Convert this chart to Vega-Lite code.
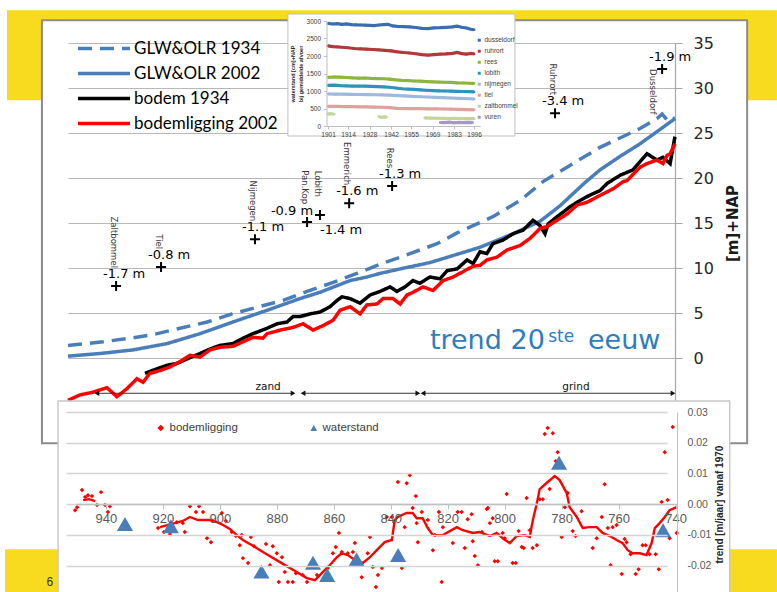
{
"$schema":"https://vega.github.io/schema/vega-lite/v6.json",
"width":607,"height":360,
"autosize":{"type":"none"},
"padding":{"left":68,"top":43,"right":102,"bottom":189},
"background":"#ffffff",
"config":{"view":{"stroke":null},"text":{"font":"DejaVu Sans"}},
"datasets":{
"yellow":[{"km":973.3,"km2":961.1,"m":38.63,"m2":28.63},{"km":961.1,"km2":714.8,"m":38.63,"m2":37.52},{"km":714.8,"km2":704.4,"m":38.63,"m2":28.63},{"km":974.0,"km2":704.4,"m":-21.26,"m2":-26.92}],
"mbox":[{"km":961.1,"km2":714.8,"m":37.52,"m2":-9.48}],
"lines":[
{"s":"GLW&OLR 1934","km":952.0,"m":1.4},{"s":"GLW&OLR 1934","km":948.9,"m":1.5},{"s":"GLW&OLR 1934","km":939.8,"m":1.8},{"s":"GLW&OLR 1934","km":930.3,"m":2.2},{"s":"GLW&OLR 1934","km":922.3,"m":2.6},{"s":"GLW&OLR 1934","km":912.9,"m":3.3},{"s":"GLW&OLR 1934","km":903.4,"m":4.0},{"s":"GLW&OLR 1934","km":894.7,"m":4.9},{"s":"GLW&OLR 1934","km":885.3,"m":5.7},{"s":"GLW&OLR 1934","km":876.9,"m":6.4},{"s":"GLW&OLR 1934","km":868.5,"m":7.4},{"s":"GLW&OLR 1934","km":859.4,"m":8.4},{"s":"GLW&OLR 1934","km":851.1,"m":9.4},{"s":"GLW&OLR 1934","km":842.3,"m":10.5},{"s":"GLW&OLR 1934","km":836.0,"m":11.2},{"s":"GLW&OLR 1934","km":823.1,"m":12.7},{"s":"GLW&OLR 1934","km":816.1,"m":13.9},{"s":"GLW&OLR 1934","km":803.6,"m":15.7},{"s":"GLW&OLR 1934","km":794.1,"m":17.5},{"s":"GLW&OLR 1934","km":786.1,"m":19.6},{"s":"GLW&OLR 1934","km":776.7,"m":21.4},{"s":"GLW&OLR 1934","km":766.2,"m":23.4},{"s":"GLW&OLR 1934","km":752.2,"m":25.5},{"s":"GLW&OLR 1934","km":746.3,"m":26.6},{"s":"GLW&OLR 1934","km":744.5,"m":27.1},{"s":"GLW&OLR 1934","km":742.4,"m":26.3},{"s":"GLW&OLR 1934","km":740.0,"m":26.7},
{"s":"GLW&OLR 2002","km":952.0,"m":0.2},{"s":"GLW&OLR 2002","km":940.8,"m":0.5},{"s":"GLW&OLR 2002","km":929.3,"m":0.9},{"s":"GLW&OLR 2002","km":917.4,"m":1.6},{"s":"GLW&OLR 2002","km":905.9,"m":2.7},{"s":"GLW&OLR 2002","km":894.4,"m":4.0},{"s":"GLW&OLR 2002","km":882.5,"m":5.3},{"s":"GLW&OLR 2002","km":871.0,"m":6.6},{"s":"GLW&OLR 2002","km":864.0,"m":7.3},{"s":"GLW&OLR 2002","km":853.5,"m":8.6},{"s":"GLW&OLR 2002","km":847.6,"m":9.0},{"s":"GLW&OLR 2002","km":843.0,"m":9.4},{"s":"GLW&OLR 2002","km":836.0,"m":9.9},{"s":"GLW&OLR 2002","km":825.6,"m":10.6},{"s":"GLW&OLR 2002","km":808.1,"m":12.3},{"s":"GLW&OLR 2002","km":796.6,"m":13.8},{"s":"GLW&OLR 2002","km":787.1,"m":15.2},{"s":"GLW&OLR 2002","km":780.2,"m":16.9},{"s":"GLW&OLR 2002","km":771.4,"m":19.5},{"s":"GLW&OLR 2002","km":766.2,"m":20.9},{"s":"GLW&OLR 2002","km":759.2,"m":22.4},{"s":"GLW&OLR 2002","km":752.2,"m":23.8},{"s":"GLW&OLR 2002","km":745.2,"m":25.4},{"s":"GLW&OLR 2002","km":740.0,"m":26.6},
{"s":"bodem 1934","km":925.1,"m":-1.7},{"s":"bodem 1934","km":920.9,"m":-1.2},{"s":"bodem 1934","km":917.4,"m":-0.8},{"s":"bodem 1934","km":913.9,"m":-0.6},{"s":"bodem 1934","km":910.4,"m":-0.1},{"s":"bodem 1934","km":905.9,"m":0.5},{"s":"bodem 1934","km":902.4,"m":1.0},{"s":"bodem 1934","km":898.9,"m":1.4},{"s":"bodem 1934","km":894.4,"m":1.6},{"s":"bodem 1934","km":890.9,"m":2.2},{"s":"bodem 1934","km":887.4,"m":2.7},{"s":"bodem 1934","km":882.5,"m":3.3},{"s":"bodem 1934","km":879.0,"m":3.8},{"s":"bodem 1934","km":875.5,"m":4.0},{"s":"bodem 1934","km":873.4,"m":4.6},{"s":"bodem 1934","km":871.0,"m":4.6},{"s":"bodem 1934","km":867.5,"m":4.9},{"s":"bodem 1934","km":864.0,"m":5.1},{"s":"bodem 1934","km":860.5,"m":5.7},{"s":"bodem 1934","km":858.0,"m":6.4},{"s":"bodem 1934","km":856.3,"m":6.8},{"s":"bodem 1934","km":853.5,"m":6.6},{"s":"bodem 1934","km":850.0,"m":6.1},{"s":"bodem 1934","km":846.5,"m":7.0},{"s":"bodem 1934","km":843.0,"m":7.4},{"s":"bodem 1934","km":839.5,"m":7.9},{"s":"bodem 1934","km":837.1,"m":7.4},{"s":"bodem 1934","km":834.3,"m":7.9},{"s":"bodem 1934","km":831.5,"m":8.6},{"s":"bodem 1934","km":829.1,"m":8.3},{"s":"bodem 1934","km":825.6,"m":9.0},{"s":"bodem 1934","km":822.1,"m":8.8},{"s":"bodem 1934","km":819.6,"m":9.7},{"s":"bodem 1934","km":816.1,"m":9.9},{"s":"bodem 1934","km":812.6,"m":10.9},{"s":"bodem 1934","km":810.5,"m":10.5},{"s":"bodem 1934","km":808.1,"m":11.8},{"s":"bodem 1934","km":805.7,"m":11.6},{"s":"bodem 1934","km":803.6,"m":12.7},{"s":"bodem 1934","km":800.1,"m":13.1},{"s":"bodem 1934","km":796.6,"m":13.8},{"s":"bodem 1934","km":793.1,"m":14.2},{"s":"bodem 1934","km":789.6,"m":15.3},{"s":"bodem 1934","km":787.1,"m":14.7},{"s":"bodem 1934","km":785.4,"m":13.8},{"s":"bodem 1934","km":784.3,"m":14.9},{"s":"bodem 1934","km":781.2,"m":15.7},{"s":"bodem 1934","km":779.1,"m":16.2},{"s":"bodem 1934","km":776.7,"m":16.8},{"s":"bodem 1934","km":773.2,"m":17.5},{"s":"bodem 1934","km":769.7,"m":18.1},{"s":"bodem 1934","km":766.2,"m":18.6},{"s":"bodem 1934","km":763.7,"m":19.4},{"s":"bodem 1934","km":759.2,"m":20.3},{"s":"bodem 1934","km":754.7,"m":20.9},{"s":"bodem 1934","km":749.8,"m":22.7},{"s":"bodem 1934","km":746.3,"m":22.0},{"s":"bodem 1934","km":744.2,"m":22.3},{"s":"bodem 1934","km":741.7,"m":21.6},{"s":"bodem 1934","km":740.7,"m":23.4},{"s":"bodem 1934","km":740.0,"m":24.6},
{"s":"bodemligging 2002","km":952.0,"m":-4.7},{"s":"bodemligging 2002","km":947.8,"m":-4.1},{"s":"bodemligging 2002","km":943.3,"m":-3.8},{"s":"bodemligging 2002","km":938.4,"m":-3.3},{"s":"bodemligging 2002","km":934.9,"m":-4.3},{"s":"bodemligging 2002","km":931.4,"m":-3.4},{"s":"bodemligging 2002","km":927.9,"m":-2.3},{"s":"bodemligging 2002","km":925.8,"m":-2.7},{"s":"bodemligging 2002","km":923.4,"m":-1.7},{"s":"bodemligging 2002","km":919.9,"m":-1.4},{"s":"bodemligging 2002","km":916.4,"m":-1.0},{"s":"bodemligging 2002","km":912.9,"m":-0.4},{"s":"bodemligging 2002","km":909.4,"m":0.3},{"s":"bodemligging 2002","km":905.9,"m":0.1},{"s":"bodemligging 2002","km":902.4,"m":0.9},{"s":"bodemligging 2002","km":898.9,"m":1.2},{"s":"bodemligging 2002","km":894.4,"m":1.3},{"s":"bodemligging 2002","km":890.9,"m":1.8},{"s":"bodemligging 2002","km":887.4,"m":2.3},{"s":"bodemligging 2002","km":883.9,"m":2.2},{"s":"bodemligging 2002","km":882.5,"m":2.7},{"s":"bodemligging 2002","km":877.9,"m":3.1},{"s":"bodemligging 2002","km":873.4,"m":3.4},{"s":"bodemligging 2002","km":869.9,"m":3.8},{"s":"bodemligging 2002","km":866.4,"m":3.1},{"s":"bodemligging 2002","km":862.9,"m":3.6},{"s":"bodemligging 2002","km":859.4,"m":4.2},{"s":"bodemligging 2002","km":857.0,"m":5.3},{"s":"bodemligging 2002","km":853.5,"m":5.7},{"s":"bodemligging 2002","km":850.0,"m":4.9},{"s":"bodemligging 2002","km":847.6,"m":5.9},{"s":"bodemligging 2002","km":844.1,"m":6.0},{"s":"bodemligging 2002","km":842.0,"m":6.6},{"s":"bodemligging 2002","km":838.5,"m":6.6},{"s":"bodemligging 2002","km":836.0,"m":6.0},{"s":"bodemligging 2002","km":833.6,"m":7.0},{"s":"bodemligging 2002","km":831.5,"m":7.3},{"s":"bodemligging 2002","km":828.0,"m":7.9},{"s":"bodemligging 2002","km":824.5,"m":7.5},{"s":"bodemligging 2002","km":821.0,"m":8.6},{"s":"bodemligging 2002","km":817.5,"m":9.0},{"s":"bodemligging 2002","km":814.0,"m":9.6},{"s":"bodemligging 2002","km":810.5,"m":10.2},{"s":"bodemligging 2002","km":808.1,"m":10.3},{"s":"bodemligging 2002","km":805.7,"m":10.9},{"s":"bodemligging 2002","km":802.2,"m":11.2},{"s":"bodemligging 2002","km":798.7,"m":12.0},{"s":"bodemligging 2002","km":794.1,"m":12.5},{"s":"bodemligging 2002","km":790.6,"m":13.3},{"s":"bodemligging 2002","km":787.1,"m":14.4},{"s":"bodemligging 2002","km":784.7,"m":14.6},{"s":"bodemligging 2002","km":781.2,"m":15.3},{"s":"bodemligging 2002","km":777.7,"m":16.0},{"s":"bodemligging 2002","km":774.2,"m":17.0},{"s":"bodemligging 2002","km":770.7,"m":17.3},{"s":"bodemligging 2002","km":767.2,"m":17.9},{"s":"bodemligging 2002","km":761.6,"m":18.8},{"s":"bodemligging 2002","km":758.1,"m":19.6},{"s":"bodemligging 2002","km":756.8,"m":19.7},{"s":"bodemligging 2002","km":752.2,"m":21.2},{"s":"bodemligging 2002","km":749.8,"m":21.6},{"s":"bodemligging 2002","km":746.3,"m":22.0},{"s":"bodemligging 2002","km":744.2,"m":21.6},{"s":"bodemligging 2002","km":742.8,"m":22.5},{"s":"bodemligging 2002","km":741.7,"m":22.7},{"s":"bodemligging 2002","km":740.0,"m":23.8}
],
"stations":[{"name":"Zaltbommel","km":935.2,"m":8.0,"lab":"-1.7 m"},{"name":"Tiel","km":919.5,"m":10.1,"lab":"-0.8 m"},{"name":"Nijmegen","km":886.7,"m":13.2,"lab":"-1.1 m"},{"name":"Pan.Kop","km":868.5,"m":15.1,"lab":"-0.9 m"},{"name":"Lobith","km":864.0,"m":15.9,"lab":"-1.4 m"},{"name":"Emmerich","km":853.8,"m":17.2,"lab":"-1.6 m"},{"name":"Rees","km":838.8,"m":19.1,"lab":"-1.3 m"},{"name":"Ruhrort","km":781.9,"m":27.2,"lab":"-3.4 m"},{"name":"Dusseldorf","km":744.5,"m":32.1,"lab":"-1.9 m"}],
"arrows":[{"km":941.9,"km2":873.4,"m":-3.92},{"km":869.9,"km2":829.8,"m":-3.92},{"km":828.0,"km2":740.7,"m":-3.92}],
"arrowlab":[{"t":"zand","km":882.1,"m":-3.26},{"t":"grind","km":774.6,"m":-3.26}],
"trendbig":[{"t":"trend 20","km":825.6,"m":1.04},{"t":"eeuw","km":770.4,"m":1.04}],
"trendsmall":[{"t":"ste","km":784.3,"m":1.78}],
"pagenr":[{"t":"6","km":958.3,"m":-24.9}],
"bbox":[{"km":956.8,"km2":721.0,"v":0.0336,"v2":-0.0313}],
"ma":[
{"g":1,"km":948.0,"v":0.0013},{"g":1,"km":945.9,"v":0.0016},{"g":1,"km":943.8,"v":0.0010},
{"g":2,"km":921.0,"v":-0.0075},{"g":2,"km":915.8,"v":-0.0062},{"g":2,"km":913.0,"v":-0.0055},{"g":2,"km":910.5,"v":-0.0042},{"g":2,"km":907.7,"v":-0.0052},{"g":2,"km":903.5,"v":-0.0052},{"g":2,"km":901.0,"v":-0.0059},{"g":2,"km":898.9,"v":-0.0068},{"g":2,"km":896.5,"v":-0.0081},{"g":2,"km":894.0,"v":-0.0101},{"g":2,"km":891.9,"v":-0.0117},{"g":2,"km":888.7,"v":-0.0134},{"g":2,"km":885.9,"v":-0.0150},{"g":2,"km":883.1,"v":-0.0166},{"g":2,"km":878.9,"v":-0.0189},{"g":2,"km":875.4,"v":-0.0208},{"g":2,"km":873.0,"v":-0.0221},{"g":2,"km":869.5,"v":-0.0241},{"g":2,"km":866.6,"v":-0.0248},{"g":2,"km":863.8,"v":-0.0221},{"g":2,"km":861.4,"v":-0.0199},{"g":2,"km":858.9,"v":-0.0173},{"g":2,"km":857.2,"v":-0.0160},{"g":2,"km":855.1,"v":-0.0166},{"g":2,"km":852.6,"v":-0.0182},{"g":2,"km":849.8,"v":-0.0192},{"g":2,"km":847.3,"v":-0.0173},{"g":2,"km":844.9,"v":-0.0150},{"g":2,"km":842.1,"v":-0.0124},{"g":2,"km":839.6,"v":-0.0117},{"g":2,"km":838.6,"v":-0.0052},{"g":2,"km":837.5,"v":-0.0042},{"g":2,"km":834.4,"v":-0.0029},{"g":2,"km":832.3,"v":-0.0029},{"g":2,"km":830.9,"v":-0.0046},{"g":2,"km":828.8,"v":-0.0046},{"g":2,"km":827.0,"v":-0.0078},{"g":2,"km":825.2,"v":-0.0101},{"g":2,"km":821.7,"v":-0.0101},{"g":2,"km":816.8,"v":-0.0075},{"g":2,"km":814.7,"v":-0.0085},{"g":2,"km":811.2,"v":-0.0094},{"g":2,"km":808.8,"v":-0.0091},{"g":2,"km":805.2,"v":-0.0104},{"g":2,"km":802.8,"v":-0.0094},{"g":2,"km":800.7,"v":-0.0111},{"g":2,"km":798.2,"v":-0.0127},{"g":2,"km":795.8,"v":-0.0104},{"g":2,"km":793.0,"v":-0.0101},{"g":2,"km":791.2,"v":-0.0107},{"g":2,"km":790.1,"v":-0.0052},{"g":2,"km":788.7,"v":0.0003},{"g":2,"km":787.7,"v":0.0049},{"g":2,"km":784.9,"v":0.0072},{"g":2,"km":782.4,"v":0.0091},{"g":2,"km":780.7,"v":0.0078},{"g":2,"km":778.2,"v":0.0036},{"g":2,"km":777.2,"v":-0.0010},{"g":2,"km":774.7,"v":-0.0042},{"g":2,"km":772.6,"v":-0.0078},{"g":2,"km":770.2,"v":-0.0075},{"g":2,"km":767.7,"v":-0.0075},{"g":2,"km":765.6,"v":-0.0094},{"g":2,"km":763.1,"v":-0.0104},{"g":2,"km":760.7,"v":-0.0117},{"g":2,"km":758.6,"v":-0.0127},{"g":2,"km":756.8,"v":-0.0150},{"g":2,"km":755.1,"v":-0.0160},{"g":2,"km":752.6,"v":-0.0160},{"g":2,"km":750.2,"v":-0.0166},{"g":2,"km":748.4,"v":-0.0127},{"g":2,"km":747.3,"v":-0.0078},{"g":2,"km":745.6,"v":-0.0062},{"g":2,"km":743.8,"v":-0.0042},{"g":2,"km":742.1,"v":-0.0020},{"g":2,"km":739.6,"v":-0.0010}
],
"scat":[
{"km":950.8,"v":-0.0020},{"km":950.1,"v":-0.0010},{"km":948.4,"v":0.0046},{"km":947.3,"v":0.0023},{"km":946.3,"v":0.0029},{"km":944.9,"v":0.0026},{"km":943.1,"v":-0.0003},{"km":941.7,"v":0.0039},{"km":940.3,"v":-0.0003},{"km":939.3,"v":-0.0026},{"km":938.6,"v":-0.0007},
{"km":921.7,"v":-0.0078},{"km":919.6,"v":-0.0091},{"km":917.5,"v":-0.0098},{"km":915.1,"v":-0.0059},{"km":912.3,"v":-0.0091},{"km":913.0,"v":-0.0062},{"km":910.5,"v":-0.0007},{"km":907.3,"v":-0.0007},{"km":908.4,"v":-0.0026},{"km":905.9,"v":-0.0026},{"km":904.5,"v":-0.0111},{"km":903.1,"v":-0.0124},{"km":899.3,"v":-0.0029},{"km":897.9,"v":-0.0055},{"km":895.8,"v":-0.0091},{"km":894.4,"v":-0.0104},{"km":892.3,"v":-0.0101},{"km":889.1,"v":-0.0107},{"km":893.0,"v":-0.0134},{"km":891.9,"v":-0.0176},{"km":890.1,"v":-0.0192},{"km":888.0,"v":-0.0137},{"km":883.8,"v":-0.0130},{"km":882.4,"v":-0.0199},{"km":881.4,"v":-0.0137},{"km":880.0,"v":-0.0160},{"km":878.2,"v":-0.0173},{"km":877.2,"v":-0.0221},{"km":879.3,"v":-0.0254},{"km":876.1,"v":-0.0254},{"km":874.4,"v":-0.0254},{"km":873.3,"v":-0.0225},{"km":870.9,"v":-0.0231},{"km":869.4,"v":-0.0254},{"km":865.9,"v":-0.0231},{"km":862.1,"v":-0.0208},{"km":860.3,"v":-0.0160},{"km":859.3,"v":-0.0140},{"km":858.2,"v":-0.0094},{"km":857.2,"v":-0.0156},{"km":855.1,"v":-0.0160},{"km":853.3,"v":-0.0156},{"km":852.6,"v":-0.0127},{"km":851.6,"v":-0.0189},{"km":850.2,"v":-0.0238},{"km":848.1,"v":-0.0160},{"km":847.3,"v":-0.0107},{"km":846.3,"v":-0.0205},{"km":844.5,"v":-0.0231},{"km":843.1,"v":-0.0208},{"km":845.2,"v":-0.0270},{"km":841.4,"v":-0.0042},{"km":839.6,"v":-0.0042},{"km":837.5,"v":0.0072},{"km":834.4,"v":0.0068},{"km":833.3,"v":0.0094},{"km":831.2,"v":0.0026},{"km":832.3,"v":-0.0013},{"km":829.1,"v":-0.0026},{"km":830.9,"v":-0.0062},{"km":835.1,"v":-0.0075},{"km":836.1,"v":-0.0208},{"km":830.5,"v":-0.0124},{"km":827.0,"v":-0.0052},{"km":825.2,"v":-0.0150},{"km":824.5,"v":-0.0101},{"km":823.1,"v":-0.0026},{"km":822.1,"v":-0.0254},{"km":821.7,"v":-0.0075},{"km":818.2,"v":-0.0127},{"km":816.5,"v":-0.0026},{"km":815.1,"v":-0.0026},{"km":813.0,"v":-0.0049},{"km":811.6,"v":-0.0033},{"km":814.0,"v":-0.0143},{"km":811.2,"v":-0.0121},{"km":809.4,"v":-0.0199},{"km":810.5,"v":-0.0169},{"km":808.0,"v":-0.0091},{"km":806.3,"v":-0.0016},{"km":805.9,"v":-0.0013},{"km":805.2,"v":-0.0062},{"km":804.2,"v":-0.0046},{"km":803.5,"v":-0.0186},{"km":802.4,"v":-0.0186},{"km":800.7,"v":-0.0094},{"km":800.0,"v":-0.0111},{"km":799.3,"v":0.0033},{"km":797.2,"v":-0.0192},{"km":796.1,"v":-0.0192},{"km":795.1,"v":-0.0088},{"km":794.0,"v":-0.0140},{"km":793.3,"v":-0.0143},{"km":792.3,"v":0.0020},{"km":791.2,"v":-0.0085},{"km":790.2,"v":-0.0143},{"km":788.7,"v":-0.0134},{"km":787.7,"v":0.0016},{"km":786.6,"v":0.0016},{"km":785.9,"v":0.0228},{"km":784.9,"v":0.0248},{"km":783.1,"v":0.0231},{"km":784.2,"v":0.0049},{"km":781.4,"v":0.0169},{"km":782.1,"v":0.0140},{"km":780.0,"v":-0.0107},{"km":778.9,"v":-0.0010},{"km":777.9,"v":0.0036},{"km":776.1,"v":-0.0088},{"km":775.1,"v":-0.0104},{"km":773.0,"v":-0.0023},{"km":769.1,"v":-0.0143},{"km":767.7,"v":-0.0111},{"km":765.9,"v":-0.0042},{"km":764.9,"v":0.0065},{"km":763.8,"v":-0.0078},{"km":762.8,"v":-0.0199},{"km":762.1,"v":-0.0075},{"km":760.7,"v":-0.0068},{"km":758.9,"v":-0.0228},{"km":757.9,"v":-0.0114},{"km":757.2,"v":-0.0124},{"km":755.8,"v":-0.0163},{"km":754.0,"v":-0.0228},{"km":753.0,"v":-0.0212},{"km":751.6,"v":-0.0134},{"km":750.5,"v":-0.0134},{"km":749.1,"v":-0.0163},{"km":747.0,"v":-0.0163},{"km":745.9,"v":-0.0212},{"km":744.9,"v":0.0007},{"km":743.8,"v":0.0169},{"km":742.8,"v":0.0013},{"km":742.1,"v":-0.0111},{"km":741.0,"v":0.0251},{"km":739.6,"v":-0.0094}
],
"ws":[{"km":933.3,"v":-0.0065},{"km":917.2,"v":-0.0072},{"km":885.4,"v":-0.0220},{"km":867.3,"v":-0.0191},{"km":862.3,"v":-0.0231},{"km":852.0,"v":-0.0180},{"km":837.4,"v":-0.0166},{"km":780.9,"v":0.0135},{"km":744.4,"v":-0.0085}],
"ibox":[{"yr":1874.9,"yr2":2022.6,"cm":3200,"cm2":-286}],
"inset":[
{"st":"dusseldorf","g":1,"yr":1901,"cm":2930},{"st":"dusseldorf","g":1,"yr":1904,"cm":2915},{"st":"dusseldorf","g":1,"yr":1907,"cm":2925},{"st":"dusseldorf","g":1,"yr":1910,"cm":2905},{"st":"dusseldorf","g":1,"yr":1913,"cm":2915},{"st":"dusseldorf","g":1,"yr":1916,"cm":2895},{"st":"dusseldorf","g":1,"yr":1919,"cm":2890},{"st":"dusseldorf","g":1,"yr":1922,"cm":2885},{"st":"dusseldorf","g":1,"yr":1925,"cm":2880},{"st":"dusseldorf","g":1,"yr":1928,"cm":2875},{"st":"dusseldorf","g":1,"yr":1931,"cm":2870},{"st":"dusseldorf","g":1,"yr":1934,"cm":2885},{"st":"dusseldorf","g":1,"yr":1937,"cm":2895},{"st":"dusseldorf","g":1,"yr":1940,"cm":2905},{"st":"dusseldorf","g":1,"yr":1943,"cm":2860},{"st":"dusseldorf","g":1,"yr":1946,"cm":2845},{"st":"dusseldorf","g":1,"yr":1950,"cm":2840},{"st":"dusseldorf","g":1,"yr":1954,"cm":2830},{"st":"dusseldorf","g":1,"yr":1958,"cm":2815},{"st":"dusseldorf","g":1,"yr":1962,"cm":2790},{"st":"dusseldorf","g":1,"yr":1966,"cm":2785},{"st":"dusseldorf","g":1,"yr":1970,"cm":2805},{"st":"dusseldorf","g":1,"yr":1974,"cm":2810},{"st":"dusseldorf","g":1,"yr":1978,"cm":2820},{"st":"dusseldorf","g":1,"yr":1982,"cm":2830},{"st":"dusseldorf","g":1,"yr":1985,"cm":2850},{"st":"dusseldorf","g":1,"yr":1988,"cm":2820},{"st":"dusseldorf","g":1,"yr":1991,"cm":2800},{"st":"dusseldorf","g":1,"yr":1994,"cm":2765},{"st":"dusseldorf","g":1,"yr":1996,"cm":2750},
{"st":"ruhrort","g":1,"yr":1901,"cm":2290},{"st":"ruhrort","g":1,"yr":1904,"cm":2270},{"st":"ruhrort","g":1,"yr":1907,"cm":2260},{"st":"ruhrort","g":1,"yr":1910,"cm":2250},{"st":"ruhrort","g":1,"yr":1914,"cm":2235},{"st":"ruhrort","g":1,"yr":1918,"cm":2215},{"st":"ruhrort","g":1,"yr":1922,"cm":2205},{"st":"ruhrort","g":1,"yr":1926,"cm":2195},{"st":"ruhrort","g":1,"yr":1930,"cm":2185},{"st":"ruhrort","g":1,"yr":1934,"cm":2175},{"st":"ruhrort","g":1,"yr":1938,"cm":2160},{"st":"ruhrort","g":1,"yr":1942,"cm":2145},{"st":"ruhrort","g":1,"yr":1946,"cm":2120},{"st":"ruhrort","g":1,"yr":1950,"cm":2100},{"st":"ruhrort","g":1,"yr":1954,"cm":2085},{"st":"ruhrort","g":1,"yr":1958,"cm":2065},{"st":"ruhrort","g":1,"yr":1962,"cm":2040},{"st":"ruhrort","g":1,"yr":1966,"cm":2025},{"st":"ruhrort","g":1,"yr":1970,"cm":2040},{"st":"ruhrort","g":1,"yr":1974,"cm":2055},{"st":"ruhrort","g":1,"yr":1978,"cm":2060},{"st":"ruhrort","g":1,"yr":1982,"cm":2075},{"st":"ruhrort","g":1,"yr":1985,"cm":2100},{"st":"ruhrort","g":1,"yr":1988,"cm":2070},{"st":"ruhrort","g":1,"yr":1991,"cm":2055},{"st":"ruhrort","g":1,"yr":1994,"cm":2075},{"st":"ruhrort","g":1,"yr":1996,"cm":2060},
{"st":"rees","g":1,"yr":1901,"cm":1390},{"st":"rees","g":1,"yr":1905,"cm":1400},{"st":"rees","g":1,"yr":1909,"cm":1395},{"st":"rees","g":1,"yr":1913,"cm":1385},{"st":"rees","g":1,"yr":1917,"cm":1375},{"st":"rees","g":1,"yr":1921,"cm":1370},{"st":"rees","g":1,"yr":1925,"cm":1372},{"st":"rees","g":1,"yr":1929,"cm":1360},{"st":"rees","g":1,"yr":1933,"cm":1355},{"st":"rees","g":1,"yr":1937,"cm":1350},{"st":"rees","g":1,"yr":1941,"cm":1340},{"st":"rees","g":1,"yr":1945,"cm":1320},{"st":"rees","g":1,"yr":1949,"cm":1305},{"st":"rees","g":1,"yr":1953,"cm":1295},{"st":"rees","g":1,"yr":1957,"cm":1285},{"st":"rees","g":1,"yr":1961,"cm":1280},{"st":"rees","g":1,"yr":1965,"cm":1270},{"st":"rees","g":1,"yr":1969,"cm":1262},{"st":"rees","g":1,"yr":1973,"cm":1255},{"st":"rees","g":1,"yr":1977,"cm":1250},{"st":"rees","g":1,"yr":1981,"cm":1245},{"st":"rees","g":1,"yr":1985,"cm":1232},{"st":"rees","g":1,"yr":1989,"cm":1228},{"st":"rees","g":1,"yr":1993,"cm":1222},{"st":"rees","g":1,"yr":1996,"cm":1218},
{"st":"lobith","g":1,"yr":1901,"cm":1160},{"st":"lobith","g":1,"yr":1905,"cm":1165},{"st":"lobith","g":1,"yr":1909,"cm":1152},{"st":"lobith","g":1,"yr":1913,"cm":1145},{"st":"lobith","g":1,"yr":1917,"cm":1140},{"st":"lobith","g":1,"yr":1921,"cm":1138},{"st":"lobith","g":1,"yr":1925,"cm":1140},{"st":"lobith","g":1,"yr":1929,"cm":1132},{"st":"lobith","g":1,"yr":1933,"cm":1125},{"st":"lobith","g":1,"yr":1937,"cm":1118},{"st":"lobith","g":1,"yr":1941,"cm":1108},{"st":"lobith","g":1,"yr":1945,"cm":1085},{"st":"lobith","g":1,"yr":1949,"cm":1065},{"st":"lobith","g":1,"yr":1953,"cm":1055},{"st":"lobith","g":1,"yr":1957,"cm":1045},{"st":"lobith","g":1,"yr":1961,"cm":1032},{"st":"lobith","g":1,"yr":1965,"cm":1022},{"st":"lobith","g":1,"yr":1969,"cm":1012},{"st":"lobith","g":1,"yr":1973,"cm":1005},{"st":"lobith","g":1,"yr":1977,"cm":1000},{"st":"lobith","g":1,"yr":1981,"cm":995},{"st":"lobith","g":1,"yr":1985,"cm":992},{"st":"lobith","g":1,"yr":1989,"cm":986},{"st":"lobith","g":1,"yr":1993,"cm":980},{"st":"lobith","g":1,"yr":1996,"cm":975},
{"st":"nijmegen","g":1,"yr":1901,"cm":915},{"st":"nijmegen","g":1,"yr":1906,"cm":912},{"st":"nijmegen","g":1,"yr":1911,"cm":908},{"st":"nijmegen","g":1,"yr":1916,"cm":905},{"st":"nijmegen","g":1,"yr":1921,"cm":900},{"st":"nijmegen","g":1,"yr":1926,"cm":898},{"st":"nijmegen","g":1,"yr":1931,"cm":893},{"st":"nijmegen","g":1,"yr":1936,"cm":890},{"st":"nijmegen","g":1,"yr":1941,"cm":882},{"st":"nijmegen","g":1,"yr":1946,"cm":870},{"st":"nijmegen","g":1,"yr":1951,"cm":858},{"st":"nijmegen","g":1,"yr":1956,"cm":845},{"st":"nijmegen","g":1,"yr":1961,"cm":835},{"st":"nijmegen","g":1,"yr":1966,"cm":828},{"st":"nijmegen","g":1,"yr":1971,"cm":818},{"st":"nijmegen","g":1,"yr":1976,"cm":810},{"st":"nijmegen","g":1,"yr":1981,"cm":800},{"st":"nijmegen","g":1,"yr":1986,"cm":792},{"st":"nijmegen","g":1,"yr":1991,"cm":785},{"st":"nijmegen","g":1,"yr":1996,"cm":772},
{"st":"tiel","g":1,"yr":1901,"cm":560},{"st":"tiel","g":1,"yr":1906,"cm":558},{"st":"tiel","g":1,"yr":1911,"cm":555},{"st":"tiel","g":1,"yr":1916,"cm":552},{"st":"tiel","g":1,"yr":1921,"cm":548},{"st":"tiel","g":1,"yr":1926,"cm":545},{"st":"tiel","g":1,"yr":1931,"cm":540},{"st":"tiel","g":1,"yr":1936,"cm":535},{"st":"tiel","g":1,"yr":1941,"cm":525},{"st":"tiel","g":1,"yr":1946,"cm":505},{"st":"tiel","g":1,"yr":1951,"cm":498},{"st":"tiel","g":1,"yr":1956,"cm":495},{"st":"tiel","g":1,"yr":1961,"cm":495},{"st":"tiel","g":1,"yr":1966,"cm":490},{"st":"tiel","g":1,"yr":1971,"cm":488},{"st":"tiel","g":1,"yr":1976,"cm":485},{"st":"tiel","g":1,"yr":1981,"cm":480},{"st":"tiel","g":1,"yr":1986,"cm":475},{"st":"tiel","g":1,"yr":1991,"cm":470},{"st":"tiel","g":1,"yr":1996,"cm":462},
{"st":"zaltbommel","g":1,"yr":1901,"cm":345},{"st":"zaltbommel","g":1,"yr":1903,"cm":350},{"st":"zaltbommel","g":1,"yr":1905,"cm":335},{"st":"zaltbommel","g":2,"yr":1934,"cm":270},{"st":"zaltbommel","g":2,"yr":1936,"cm":245},{"st":"zaltbommel","g":2,"yr":1938,"cm":260},{"st":"zaltbommel","g":2,"yr":1939,"cm":250},{"st":"zaltbommel","g":3,"yr":1964,"cm":230},{"st":"zaltbommel","g":3,"yr":1968,"cm":225},{"st":"zaltbommel","g":3,"yr":1972,"cm":222},{"st":"zaltbommel","g":3,"yr":1976,"cm":218},{"st":"zaltbommel","g":3,"yr":1980,"cm":215},{"st":"zaltbommel","g":3,"yr":1984,"cm":216},{"st":"zaltbommel","g":3,"yr":1988,"cm":214},{"st":"zaltbommel","g":3,"yr":1992,"cm":212},{"st":"zaltbommel","g":3,"yr":1996,"cm":210},
{"st":"vuren","g":1,"yr":1974,"cm":100},{"st":"vuren","g":1,"yr":1977,"cm":95},{"st":"vuren","g":1,"yr":1980,"cm":108},{"st":"vuren","g":1,"yr":1983,"cm":92},{"st":"vuren","g":1,"yr":1986,"cm":104},{"st":"vuren","g":1,"yr":1989,"cm":96},{"st":"vuren","g":1,"yr":1992,"cm":102},{"st":"vuren","g":1,"yr":1995,"cm":98}
]
},
"layer":[
{
"encoding":{
"x":{"field":"km","type":"quantitative","scale":{"domain":[740,952],"reverse":true,"range":[0,607],"nice":false,"zero":false},"axis":null},
"y":{"field":"m","type":"quantitative","scale":{"domain":[-5,35],"range":[360,0],"nice":false,"zero":false},
"axis":{"orient":"right","values":[0,5,10,15,20,25,30,35],"title":"[m]+NAP","titleFont":"DejaVu Sans","titleFontSize":15,"titleFontWeight":"bold","titleColor":"#1a1a1a","titleAngle":270,"titleBaseline":"top","titlePadding":12,"grid":true,"gridColor":"#b8b8b8","gridWidth":1.2,"domainColor":"#a6a6a6","domainWidth":1.2,"tickColor":"#a6a6a6","tickSize":7,"labelFont":"DejaVu Sans","labelFontSize":16,"labelColor":"#262626","labelPadding":11,"zindex":0}}
},
"layer":[
{"data":{"name":"yellow"},"mark":{"type":"rect","color":"#f8da1e"},"encoding":{"x2":{"field":"km2"},"y2":{"field":"m2"}}},
{"data":{"name":"mbox"},"mark":{"type":"rect","filled":false,"stroke":"#8c8c8c","strokeWidth":2},"encoding":{"x2":{"field":"km2"},"y2":{"field":"m2"}}},
{"data":{"name":"lines"},"mark":{"type":"line","strokeWidth":3.5},
"encoding":{
"color":{"field":"s","type":"nominal","scale":{"domain":["GLW&OLR 1934","GLW&OLR 2002","bodem 1934","bodemligging 2002"],"range":["#4a7ebb","#4a7ebb","#000000","#ff0000"]},
"legend":{"title":null,"orient":"none","legendX":8,"legendY":-3,"symbolType":"stroke","symbolSize":2704,"symbolStrokeWidth":3.5,"labelFont":"Lato","labelFontSize":17,"labelColor":"#000000","labelOffset":2,"rowPadding":7,"clipHeight":17,"labelLimit":400}},
"strokeDash":{"field":"s","type":"nominal","scale":{"domain":["GLW&OLR 1934","GLW&OLR 2002","bodem 1934","bodemligging 2002"],"range":[[14,8],[1,0],[1,0],[1,0]]},
"legend":{"title":null,"orient":"none","legendX":8,"legendY":-3,"symbolType":"stroke","symbolSize":2704,"symbolStrokeWidth":3.5,"labelFont":"Lato","labelFontSize":17,"labelColor":"#000000","labelOffset":2,"rowPadding":7,"clipHeight":17,"labelLimit":400}}
}},
{"data":{"name":"arrows"},"mark":{"type":"rule","color":"#333333","strokeWidth":1},"encoding":{"x2":{"field":"km2"}}},
{"data":{"name":"arrows"},"mark":{"type":"point","shape":"triangle-left","size":30,"filled":true,"color":"#111111","opacity":1},"encoding":{}},
{"data":{"name":"arrows"},"mark":{"type":"point","shape":"triangle-right","size":30,"filled":true,"color":"#111111","opacity":1},"encoding":{"x":{"field":"km2","type":"quantitative","scale":{"domain":[740,952],"reverse":true,"range":[0,607],"nice":false,"zero":false},"axis":null}}},
{"data":{"name":"arrowlab"},"mark":{"type":"text","font":"DejaVu Sans","fontSize":10.5,"color":"#111111","baseline":"middle","align":"center"},"encoding":{"text":{"field":"t"}}},
{"data":{"name":"stations"},"mark":{"type":"point","shape":"M-1,0H1M0,-1V1","size":100,"filled":false,"color":"#000000","strokeWidth":2,"opacity":1},"encoding":{}},
{"data":{"name":"stations"},"transform":[{"filter":"datum.name !== 'Pan.Kop' && datum.name !== 'Lobith'"}],"mark":{"type":"text","font":"DejaVu Sans","fontSize":13,"align":"left","baseline":"middle","dx":-13,"dy":-12,"color":"#000000"},"encoding":{"text":{"field":"lab"}}},
{"data":{"name":"stations"},"transform":[{"filter":"datum.name === 'Pan.Kop'"}],"mark":{"type":"text","font":"DejaVu Sans","fontSize":13,"align":"right","baseline":"middle","dx":6,"dy":-11,"color":"#000000"},"encoding":{"text":{"field":"lab"}}},
{"data":{"name":"stations"},"transform":[{"filter":"datum.name === 'Lobith'"}],"mark":{"type":"text","font":"DejaVu Sans","fontSize":13,"align":"left","baseline":"middle","dx":0,"dy":15,"color":"#000000"},"encoding":{"text":{"field":"lab"}}},
{"data":{"name":"stations"},"transform":[{"filter":"datum.name !== 'Dusseldorf'"}],"mark":{"type":"text","font":"DejaVu Sans","fontSize":8.5,"angle":90,"align":"right","baseline":"middle","dx":-18,"dy":2,"color":"#3a3a3a"},"encoding":{"text":{"field":"name"}}},
{"data":{"name":"stations"},"transform":[{"filter":"datum.name === 'Dusseldorf'"}],"mark":{"type":"text","font":"DejaVu Sans","fontSize":8.5,"angle":90,"align":"left","baseline":"middle","dx":0,"dy":9,"color":"#3a3a3a"},"encoding":{"text":{"field":"name"}}},
{"data":{"name":"trendbig"},"mark":{"type":"text","font":"DejaVu Sans","fontSize":27,"align":"left","baseline":"alphabetic","color":"#2e7dc0"},"encoding":{"text":{"field":"t"}}},
{"data":{"name":"trendsmall"},"mark":{"type":"text","font":"DejaVu Sans","fontSize":17,"align":"left","baseline":"alphabetic","color":"#2e7dc0"},"encoding":{"text":{"field":"t"}}},
{"data":{"name":"pagenr"},"mark":{"type":"text","font":"Liberation Sans","fontSize":12,"align":"center","baseline":"middle","color":"#333333"},"encoding":{"text":{"field":"t"}}}
]
},
{
"encoding":{
"x":{"field":"km","type":"quantitative","scale":{"domain":[739.5,950.5],"reverse":true,"range":[8,609],"nice":false,"zero":false},
"axis":{"orient":"bottom","offset":101,"values":[940,920,900,880,860,840,820,800,780,760,740],"format":"d","title":null,"grid":false,"domainColor":"#c0c0c0","domainWidth":1.3,"tickColor":"#c0c0c0","tickSize":5,"labelFont":"Liberation Sans","labelFontSize":13,"labelColor":"#595959","labelPadding":3,"labelFlush":false,"labelOverlap":false,"zindex":1}},
"y":{"field":"v","type":"quantitative","scale":{"domain":[-0.03,0.03],"range":[553.2,369],"nice":false,"zero":false},
"axis":{"orient":"right","offset":2,"values":[-0.02,-0.01,0,0.01,0.02,0.03],"labelExpr":"replace(format(datum.value,'.2f'),'\u2212','-')","title":"trend [m/jaar] vanaf 1970","titleFont":"Liberation Sans","titleFontSize":10,"titleFontWeight":"bold","titleColor":"#262626","titleAngle":270,"titleBaseline":"top","titlePadding":4,"grid":true,"gridColor":"#d4d4d4","gridWidth":1.3,"domain":true,"domainColor":"#c0c0c0","ticks":false,"labelFont":"Liberation Sans","labelFontSize":10.5,"labelColor":"#595959","labelPadding":10,"zindex":1}}
},
"layer":[
{"data":{"name":"bbox"},"mark":{"type":"rect","fill":"#ffffff","stroke":"#c8c8c8","strokeWidth":1.5},"encoding":{"x2":{"field":"km2"},"y2":{"field":"v2"}}},
{"data":{"name":"ma"},"mark":{"type":"line","color":"#ff0000","strokeWidth":2.4},"encoding":{"detail":{"field":"g","type":"nominal"}}},
{"data":{"name":"scat"},"mark":{"type":"point","filled":true,"size":20,"opacity":1},
"encoding":{
"color":{"datum":"bodemligging","type":"nominal","scale":{"domain":["bodemligging","waterstand"],"range":["#ff0000","#4a7ebb"]},"legend":{"title":null,"orient":"none","legendX":87,"legendY":379,"direction":"horizontal","symbolSize":45,"labelFont":"Liberation Sans","labelFontSize":11.5,"labelColor":"#404040","labelOffset":3,"columnPadding":70,"clipHeight":12}},
"shape":{"datum":"bodemligging","type":"nominal","scale":{"domain":["bodemligging","waterstand"],"range":["diamond","triangle-up"]},"legend":{"title":null,"orient":"none","legendX":87,"legendY":379,"direction":"horizontal","symbolSize":45,"labelFont":"Liberation Sans","labelFontSize":11.5,"labelColor":"#404040","labelOffset":3,"columnPadding":70,"clipHeight":12}}
}},
{"data":{"name":"ws"},"mark":{"type":"point","filled":true,"size":260,"opacity":1},
"encoding":{
"color":{"datum":"waterstand","type":"nominal","scale":{"domain":["bodemligging","waterstand"],"range":["#ff0000","#4a7ebb"]}},
"shape":{"datum":"waterstand","type":"nominal","scale":{"domain":["bodemligging","waterstand"],"range":["diamond","triangle-up"]}}
}}
]
},
{
"encoding":{
"x":{"field":"yr","type":"quantitative","scale":{"domain":[1900,2000],"range":[258.5,412.2],"nice":false,"zero":false},
"axis":{"orient":"bottom","offset":-277,"values":[1901,1914,1928,1942,1955,1969,1983,1996],"format":"d","title":null,"grid":false,"domainColor":"#bfbfbf","tickColor":"#bfbfbf","tickSize":3,"labelFont":"Liberation Sans","labelFontSize":6.5,"labelColor":"#404040","labelPadding":2,"labelFlush":false,"labelOverlap":false,"zindex":1}},
"y":{"field":"cm","type":"quantitative","scale":{"domain":[0,3000],"range":[83,-22],"nice":false,"zero":false},
"axis":{"orient":"left","offset":-258.5,"values":[0,500,1000,1500,2000,2500,3000],"format":"d","title":["waterstand [cm]+NAP","bij gemiddelde afvoer"],"titleFont":"Liberation Sans","titleFontSize":5.5,"titleFontWeight":"bold","titleColor":"#262626","titlePadding":3,"grid":false,"domainColor":"#bfbfbf","tickColor":"#bfbfbf","tickSize":3,"labelFont":"Liberation Sans","labelFontSize":6.5,"labelColor":"#404040","labelPadding":3,"zindex":1}}
},
"layer":[
{"data":{"name":"ibox"},"mark":{"type":"rect","fill":"#ffffff","stroke":"#bfbfbf","strokeWidth":1},"encoding":{"x2":{"field":"yr2"},"y2":{"field":"cm2"}}},
{"data":{"name":"inset"},"mark":{"type":"line","strokeWidth":3.2},"encoding":{"stroke":{"field":"st","type":"nominal","scale":{"range":["#3c6db0","#2e94b9","#9fb8dd","#8db63c","#b0393b","#e0a09e","#a896c8","#c2d69a"]},"legend":null},"detail":{"field":"g","type":"nominal"}}},
{"data":{"name":"inset"},"mark":{"type":"point","shape":"square","filled":true,"size":6,"opacity":1},"encoding":{"color":{"field":"st","type":"nominal","scale":{"domain":["dusseldorf","ruhrort","rees","lobith","nijmegen","tiel","zaltbommel","vuren"],"range":["#3c6db0","#b0393b","#8db63c","#2e94b9","#9fb8dd","#e0a09e","#c2d69a","#a896c8"]},
"legend":{"title":null,"orient":"none","legendX":408,"legendY":-6.5,"symbolType":"square","symbolSize":9,"labelFont":"Liberation Sans","labelFontSize":6.5,"labelColor":"#404040","labelOffset":2,"rowPadding":3,"clipHeight":7.5}}}}
]
}
],
"resolve":{"scale":{"x":"independent","y":"independent","color":"independent","shape":"independent","strokeDash":"independent","stroke":"independent"},"axis":{"x":"independent","y":"independent"},"legend":{"color":"independent","shape":"independent","strokeDash":"independent","stroke":"independent"}}
}
